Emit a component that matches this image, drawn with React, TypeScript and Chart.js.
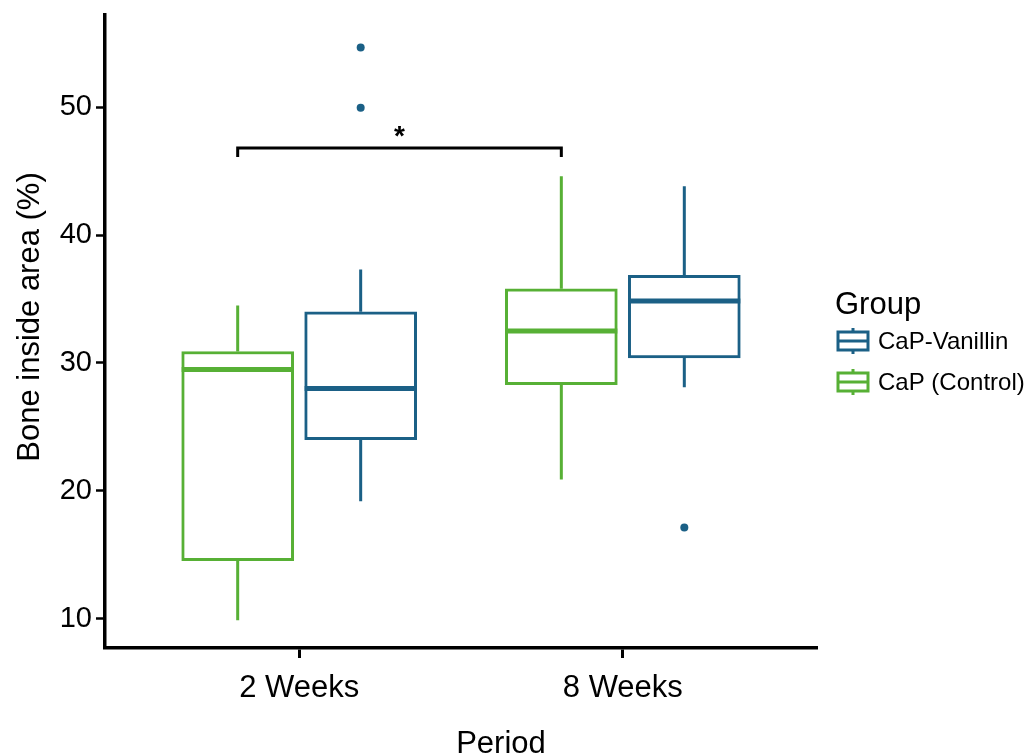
import React, { useEffect, useRef } from "react";
import { Chart, registerables } from "chart.js";

Chart.register(...registerables);

// ---------- data ----------
const CATEGORIES = ["2 Weeks", "8 Weeks"];
const GROUP_LABELS = ["CaP (Control)", "CaP-Vanillin"];
const GROUP_COLORS = ["#57b035", "#1b6086"];

const CONTROL_LOW = [9.9, 20.9];
const CONTROL_Q1 = [14.55, 28.3];
const CONTROL_MEDIAN = [29.5, 32.5];
const CONTROL_Q3 = [30.9, 35.8];
const CONTROL_HIGH = [34.5, 44.6];
const CONTROL_OUTLIERS: number[][] = [[], []];

const VANILLIN_LOW = [19.2, 28.1];
const VANILLIN_Q1 = [24.0, 30.4];
const VANILLIN_MEDIAN = [28.0, 34.85];
const VANILLIN_Q3 = [34.0, 36.85];
const VANILLIN_HIGH = [37.3, 43.8];
const VANILLIN_OUTLIERS: number[][] = [[54.65, 49.95], [17.15]];

const Y_TICKS = [10, 20, 30, 40, 50];
const Y_MIN = 7.73;
const Y_MAX = 57.19;

const SIG_Y = 46.8;
const SIG_LABEL = "*";

const X_TITLE = "Period";
const Y_TITLE = "Bone inside area (%)";
const LEGEND_TITLE = "Group";

// ---------- style ----------
const FONT = "'Liberation Sans', Arial, sans-serif";
const DODGE = [-0.19, 0.19];
const BOX_PX = 112;

const STATS = [
  { low: CONTROL_LOW, q1: CONTROL_Q1, med: CONTROL_MEDIAN, q3: CONTROL_Q3, high: CONTROL_HIGH, out: CONTROL_OUTLIERS },
  { low: VANILLIN_LOW, q1: VANILLIN_Q1, med: VANILLIN_MEDIAN, q3: VANILLIN_Q3, high: VANILLIN_HIGH, out: VANILLIN_OUTLIERS },
];

const zeroPad = (scale: any) => {
  scale.paddingTop = 0;
  scale.paddingBottom = 0;
  scale.paddingLeft = 0;
  scale.paddingRight = 0;
};

const boxPlugin = {
  id: "boxExtras",
  afterDatasetsDraw(chart: any) {
    const { ctx, scales } = chart;
    const xs = scales.x;
    const ys = scales.y;
    ctx.save();
    STATS.forEach((s, g) => {
      CATEGORIES.forEach((_, i) => {
        const cx = xs.getPixelForValue(i + 1 + DODGE[g]);
        const half = BOX_PX / 2;
        ctx.strokeStyle = GROUP_COLORS[g];
        ctx.lineCap = "butt";
        // whiskers
        ctx.lineWidth = 3;
        ctx.beginPath();
        ctx.moveTo(cx, ys.getPixelForValue(s.q3[i]));
        ctx.lineTo(cx, ys.getPixelForValue(s.high[i]));
        ctx.moveTo(cx, ys.getPixelForValue(s.q1[i]));
        ctx.lineTo(cx, ys.getPixelForValue(s.low[i]));
        ctx.stroke();
        // median
        ctx.lineWidth = 5;
        ctx.beginPath();
        const my = ys.getPixelForValue(s.med[i]);
        ctx.moveTo(cx - half, my);
        ctx.lineTo(cx + half, my);
        ctx.stroke();
      });
    });
    // significance bracket between control boxes
    const x1 = xs.getPixelForValue(1 + DODGE[0]);
    const x2 = xs.getPixelForValue(2 + DODGE[0]);
    const by = ys.getPixelForValue(SIG_Y);
    ctx.strokeStyle = "#000";
    ctx.lineWidth = 3;
    ctx.beginPath();
    ctx.moveTo(x1, by + 9);
    ctx.lineTo(x1, by);
    ctx.lineTo(x2, by);
    ctx.lineTo(x2, by + 9);
    ctx.stroke();
    ctx.fillStyle = "#000";
    ctx.font = `bold 28px ${FONT}`;
    ctx.textAlign = "center";
    ctx.textBaseline = "middle";
    ctx.fillText(SIG_LABEL, (x1 + x2) / 2, by - 11);
    ctx.restore();
  },
  afterDraw(chart: any) {
    const { ctx } = chart;
    ctx.save();
    ctx.fillStyle = "#000";
    // axis titles
    ctx.font = `31px ${FONT}`;
    ctx.textAlign = "center";
    ctx.textBaseline = "alphabetic";
    ctx.fillText(X_TITLE, 501, 753);
    ctx.save();
    ctx.translate(39, 317);
    ctx.rotate(-Math.PI / 2);
    ctx.fillText(Y_TITLE, 0, 0);
    ctx.restore();
    // legend
    ctx.textAlign = "left";
    ctx.font = `31px ${FONT}`;
    ctx.fillText(LEGEND_TITLE, 835, 314);
    ctx.font = `24px ${FONT}`;
    ctx.textBaseline = "middle";
    const order = [1, 0];
    order.forEach((g, k) => {
      const cy = 341 + k * 41;
      const x0 = 838;
      const w = 30;
      ctx.strokeStyle = GROUP_COLORS[g];
      ctx.lineWidth = 3;
      ctx.strokeRect(x0, cy - 9, w, 18);
      ctx.beginPath();
      ctx.moveTo(x0, cy);
      ctx.lineTo(x0 + w, cy);
      ctx.moveTo(x0 + w / 2, cy - 9);
      ctx.lineTo(x0 + w / 2, cy - 13);
      ctx.moveTo(x0 + w / 2, cy + 9);
      ctx.lineTo(x0 + w / 2, cy + 13);
      ctx.stroke();
      ctx.fillStyle = "#000";
      ctx.fillText(GROUP_LABELS[g], 878, cy + 1);
    });
    ctx.restore();
  },
};

export default function App() {
  const ref = useRef<HTMLCanvasElement | null>(null);
  useEffect(() => {
    if (!ref.current) return;
    Chart.defaults.font.family = FONT;
    Chart.defaults.color = "#000";
    const datasets: any[] = [];
    STATS.forEach((s, g) => {
      datasets.push({
        type: "bar",
        label: GROUP_LABELS[g],
        data: CATEGORIES.map((_, i) => ({ x: i + 1 + DODGE[g], y: [s.q1[i], s.q3[i]] })),
        backgroundColor: "#ffffff",
        borderColor: GROUP_COLORS[g],
        borderWidth: 3,
        borderSkipped: false,
        barThickness: BOX_PX,
        grouped: false,
        order: 2,
      });
    });
    STATS.forEach((s, g) => {
      const pts: any[] = [];
      s.out.forEach((vals, i) => vals.forEach((v) => pts.push({ x: i + 1 + DODGE[g], y: v })));
      datasets.push({
        type: "scatter",
        label: GROUP_LABELS[g] + " outliers",
        data: pts,
        backgroundColor: GROUP_COLORS[g],
        borderWidth: 0,
        pointRadius: 4,
        order: 1,
      });
    });
    const chart = new Chart(ref.current, {
      type: "bar",
      data: { datasets },
      options: {
        responsive: false,
        animation: false,
        layout: { padding: { top: 15, right: 208, left: 0, bottom: 0 } },
        plugins: { legend: { display: false }, tooltip: { enabled: false } },
        scales: {
          x: {
            type: "linear",
            min: 0.4,
            max: 2.6,
            offset: false,
            afterBuildTicks: (scale: any) => {
              scale.ticks = CATEGORIES.map((_, i) => ({ value: i + 1 }));
            },
            afterFit: (scale: any) => {
              scale.height = 107;
              zeroPad(scale);
            },
            ticks: {
              callback: (v: any) => CATEGORIES[Math.round(v) - 1] ?? "",
              font: { size: 31 },
              color: "#000",
              padding: 12,
              maxRotation: 0,
            },
            grid: { offset: false, drawOnChartArea: false, drawTicks: true, tickLength: 10, tickWidth: 3, tickColor: "#000" },
            border: { display: true, color: "#000", width: 3.5 },
          },
          y: {
            type: "linear",
            min: Y_MIN,
            max: Y_MAX,
            afterBuildTicks: (scale: any) => {
              scale.ticks = Y_TICKS.map((v) => ({ value: v }));
            },
            afterFit: (scale: any) => {
              scale.width = 105;
              zeroPad(scale);
            },
            ticks: { font: { size: 29 }, color: "#000", padding: 4 },
            grid: { drawOnChartArea: false, drawTicks: true, tickLength: 9, tickWidth: 2.5, tickColor: "#000" },
            border: { display: true, color: "#000", width: 3.5 },
          },
        },
      },
      plugins: [boxPlugin],
    });
    return () => chart.destroy();
  }, []);
  return (
    <div style={{ position: "fixed", left: 0, top: 0, width: 1025, height: 755, background: "#fff" }}>
      <canvas ref={ref} width={1025} height={755} style={{ display: "block" }} />
    </div>
  );
}
